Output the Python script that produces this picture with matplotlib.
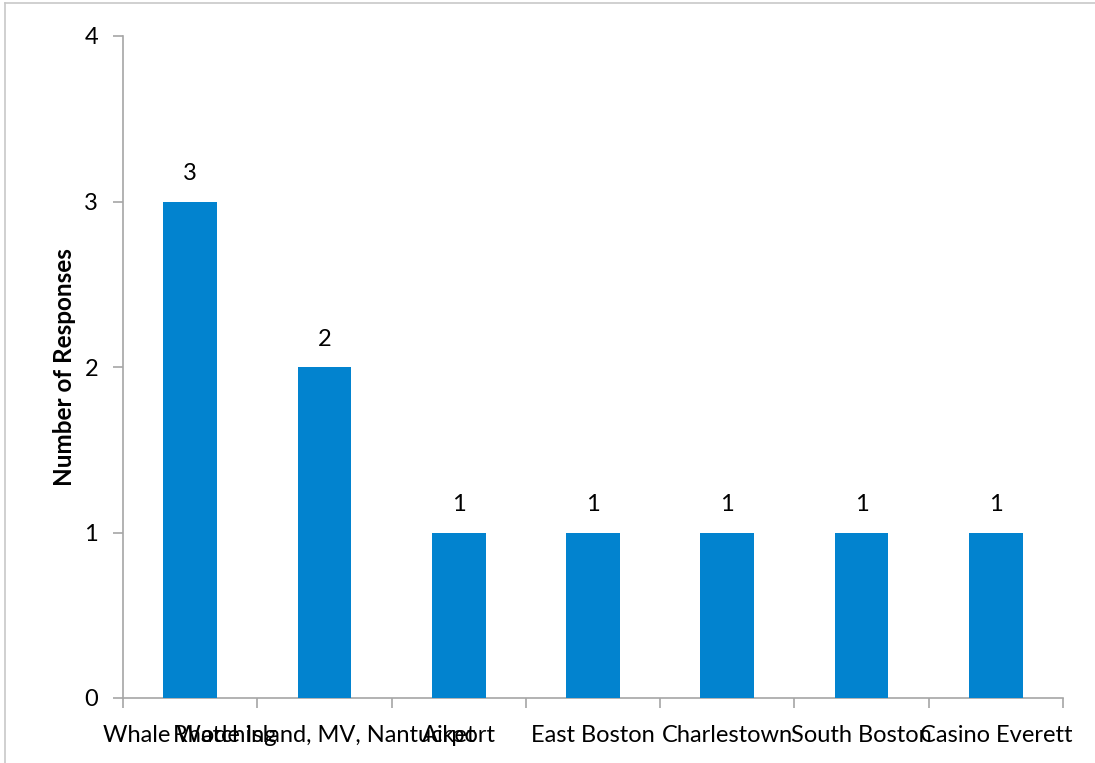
import matplotlib
matplotlib.use("Agg")
import matplotlib.pyplot as plt
from matplotlib.lines import Line2D

categories = ["Whale Watching", "Rhode Island, MV, Nantucket", "Airport", "East Boston",
              "Charlestown", "South Boston", "Casino Everett"]
values = [3, 2, 1, 1, 1, 1, 1]
yticks = [0, 1, 2, 3, 4]

plt.rcParams['font.family'] = ['Lato', 'DejaVu Sans']
fig = plt.figure(figsize=(10.95, 7.63), dpi=100)
ax = fig.add_axes([123/1095, 1-698/763, (1063-123)/1095, (698-36)/763])

x = list(range(len(categories)))
ax.bar(x, values, width=0.4, color='#0283CF', zorder=3)
for xi, v in zip(x, values):
    ax.annotate(str(v), (xi, v), xytext=(0, 20), textcoords='offset points',
                ha='center', va='center', fontsize=17, color='black')

ax.set_xlim(-0.5, len(categories) - 0.5)
ax.set_ylim(0, 4)
ax.set_yticks(yticks)
ax.set_yticklabels([str(t) for t in yticks], fontsize=17)
ax.set_xticks(x)
ax.set_xticklabels(categories, fontsize=17, va='baseline')
ax.tick_params(axis='x', length=0, pad=31.5)
ax.set_xticks([i - 0.5 for i in range(len(categories) + 1)], minor=True)
ax.tick_params(axis='x', which='minor', length=7, color='#A6A6A6', width=1.2)
ax.tick_params(axis='y', length=7, color='#A6A6A6', width=1.2, pad=11)
for s in ['top', 'right']:
    ax.spines[s].set_visible(False)
for s in ['left', 'bottom']:
    ax.spines[s].set_color('#A6A6A6')
    ax.spines[s].set_linewidth(1.2)
ax.set_ylabel("Number of Responses", fontsize=17.5, fontweight='bold', labelpad=6)

# figure border (left and top)
fig.add_artist(Line2D([5/1095, 5/1095], [0, 1-3/763], color='#C8C8C8', lw=1.2, transform=fig.transFigure))
fig.add_artist(Line2D([5/1095, 1], [1-3/763, 1-3/763], color='#C8C8C8', lw=1.2, transform=fig.transFigure))

fig.savefig("out.png", dpi=100)
